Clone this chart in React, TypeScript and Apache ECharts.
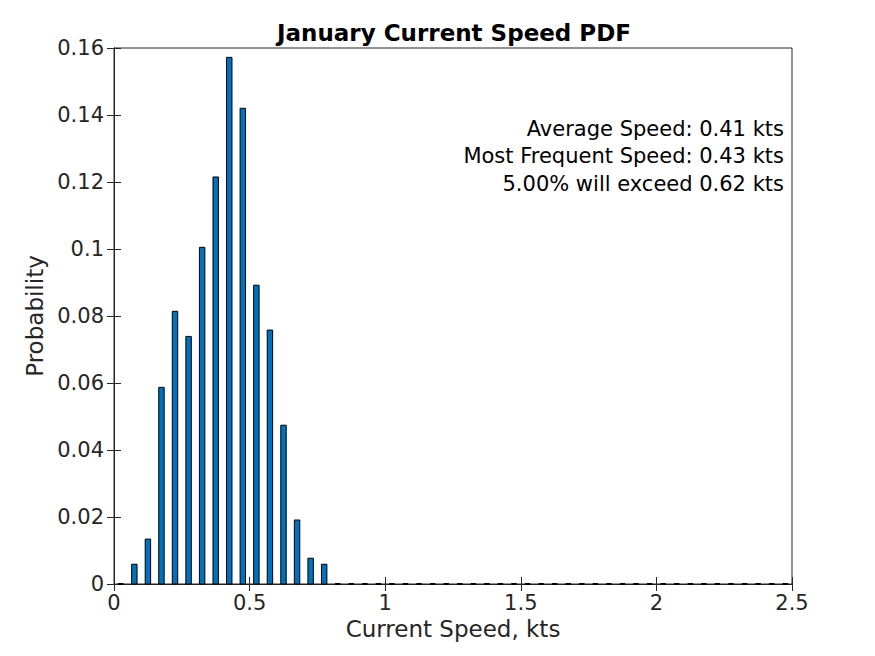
import React, { useEffect, useRef } from "react";
import * as echarts from "echarts";

const binCenters = [
  0.025, 0.075, 0.125, 0.175, 0.225, 0.275, 0.325, 0.375, 0.425, 0.475,
  0.525, 0.575, 0.625, 0.675, 0.725, 0.775, 0.825, 0.875, 0.925, 0.975,
  1.025, 1.075, 1.125, 1.175, 1.225, 1.275, 1.325, 1.375, 1.425, 1.475,
  1.525, 1.575, 1.625, 1.675, 1.725, 1.775, 1.825, 1.875, 1.925, 1.975,
  2.025, 2.075, 2.125, 2.175, 2.225, 2.275, 2.325, 2.375, 2.425, 2.475,
];
const probabilities = [
  0, 0.0059, 0.0134, 0.0587, 0.0814, 0.0739, 0.1005, 0.1215, 0.1572, 0.142,
  0.0892, 0.0758, 0.0474, 0.0191, 0.0077, 0.0059, 0, 0, 0, 0,
  0, 0, 0, 0, 0, 0, 0, 0, 0, 0,
  0, 0, 0, 0, 0, 0, 0, 0, 0, 0,
  0, 0, 0, 0, 0, 0, 0, 0, 0, 0,
];
const annotationLines = [
  "Average Speed: 0.41 kts",
  "Most Frequent Speed: 0.43 kts",
  "5.00% will exceed 0.62 kts",
];
const titleText = "January Current Speed PDF";
const xLabel = "Current Speed, kts";
const yLabel = "Probability";

const BAR_W = 0.02;
const FONT = "DejaVu Sans";
const AX = "#262626";

export default function App() {
  const ref = useRef<HTMLDivElement>(null);
  useEffect(() => {
    if (!ref.current) return;
    const chart = echarts.init(ref.current, null, { renderer: "svg" });
    const data = binCenters.map((x, i) => [x, probabilities[i]]);
    const tickCommon = {
      show: true,
      inside: true,
      length: 7,
      lineStyle: { color: AX, width: 1 },
    };
    const fmt = (v: number) => String(+v.toFixed(2));
    chart.setOption({
      animation: false,
      backgroundColor: "#fff",
      title: {
        text: titleText,
        left: 449,
        textAlign: "center",
        top: 16,
        textStyle: { fontFamily: FONT, fontSize: 23, fontWeight: "bold", color: "#000" },
      },
      grid: {
        left: 114,
        right: 83,
        top: 48,
        bottom: 72,
        show: true,
        borderColor: AX,
        borderWidth: 1,
        backgroundColor: "transparent",
      },
      xAxis: [
        {
          type: "value",
          min: 0,
          max: 2.5,
          interval: 0.5,
          position: "bottom",
          name: xLabel,
          nameLocation: "middle",
          nameGap: 33,
          nameTextStyle: { fontFamily: FONT, fontSize: 23, color: AX },
          axisLine: { show: true, onZero: false, lineStyle: { color: AX } },
          axisTick: tickCommon,
          axisLabel: { fontFamily: FONT, fontSize: 21, color: AX, margin: 8, formatter: fmt },
          splitLine: { show: false },
        },
        {
          type: "value",
          min: 0,
          max: 2.5,
          interval: 0.5,
          position: "top",
          axisLine: { show: true, lineStyle: { color: AX } },
          axisTick: tickCommon,
          axisLabel: { show: false },
          splitLine: { show: false },
        },
      ],
      yAxis: [
        {
          type: "value",
          min: 0,
          max: 0.16,
          interval: 0.02,
          position: "left",
          name: yLabel,
          nameLocation: "middle",
          nameGap: 60,
          nameTextStyle: { fontFamily: FONT, fontSize: 23, color: AX },
          axisLine: { show: true, onZero: false, lineStyle: { color: AX } },
          axisTick: tickCommon,
          axisLabel: { fontFamily: FONT, fontSize: 21, color: AX, margin: 10, formatter: fmt },
          splitLine: { show: false },
        },
        {
          type: "value",
          min: 0,
          max: 0.16,
          interval: 0.02,
          position: "right",
          axisLine: { show: true, lineStyle: { color: AX } },
          axisTick: tickCommon,
          axisLabel: { show: false },
          splitLine: { show: false },
        },
      ],
      series: [
        {
          type: "custom",
          xAxisIndex: 0,
          yAxisIndex: 0,
          encode: { x: 0, y: 1 },
          data,
          renderItem: (params: any, api: any) => {
            const x = api.value(0);
            const y = api.value(1);
            const p0 = api.coord([x - BAR_W / 2, y]);
            const p1 = api.coord([x + BAR_W / 2, 0]);
            if (y === 0) {
              return {
                type: "line",
                shape: { x1: p0[0], y1: p1[1], x2: p1[0], y2: p1[1] },
                style: { stroke: "#000", lineWidth: 2 },
                z2: 10,
              };
            }
            return {
              type: "rect",
              shape: { x: p0[0], y: p0[1], width: p1[0] - p0[0], height: p1[1] - p0[1] },
              style: { fill: "#0072BD", stroke: "#000", lineWidth: 1 },
            };
          },
        },
      ],
      graphic: annotationLines.map((t, i) => ({
        type: "text",
        right: 91,
        top: 118 + i * 27.5,
        style: {
          text: t,
          fontFamily: FONT,
          fontSize: 21,
          fill: "#000",
          textAlign: "right",
        },
      })),
    });
    return () => chart.dispose();
  }, []);
  return (
    <div
      ref={ref}
      style={{ position: "fixed", left: 0, top: 0, width: 875, height: 656, background: "#fff" }}
    />
  );
}
